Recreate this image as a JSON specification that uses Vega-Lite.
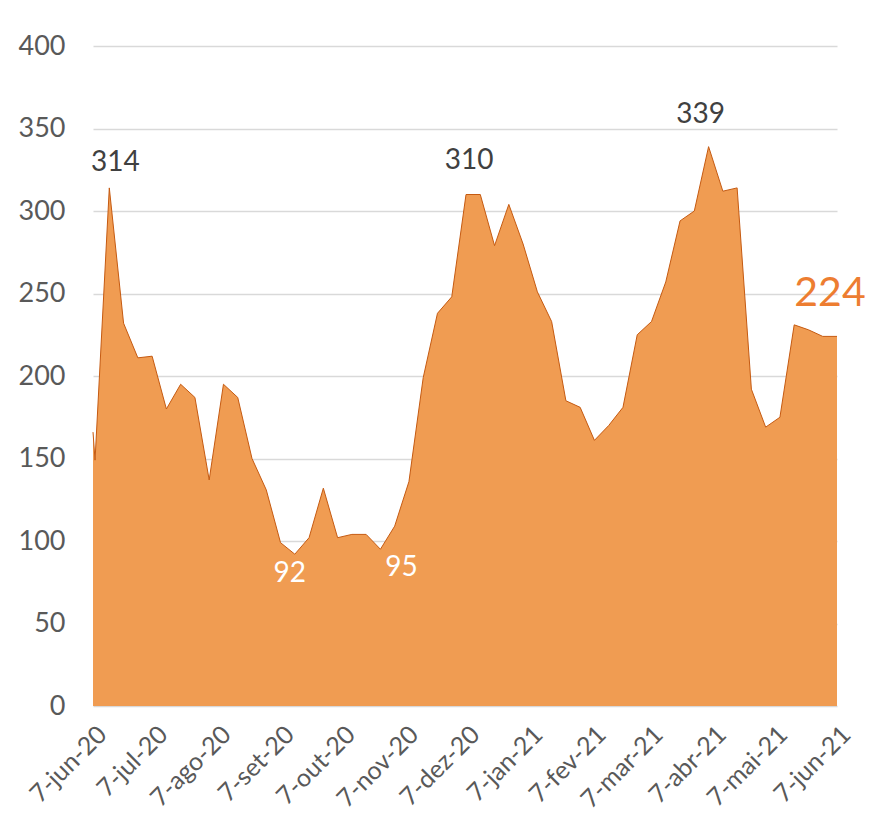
{
  "$schema": "https://vega.github.io/schema/vega-lite/v6.json",
  "autosize": {"type": "none"},
  "padding": {"left": 93, "top": 46, "right": 35, "bottom": 111},
  "width": 744,
  "height": 660,
  "background": "white",
  "config": {"view": {"stroke": null}, "font": "Lato"},
  "data": {
    "format": {"parse": {"date": "date:'%Y/%m/%d'"}},
    "values": [
      {"date": "2020/06/07", "value": 166, "lbl": null},
      {"date": "2020/06/08", "value": 149, "lbl": null},
      {"date": "2020/06/15", "value": 314, "lbl": "314"},
      {"date": "2020/06/22", "value": 232, "lbl": null},
      {"date": "2020/06/29", "value": 211, "lbl": null},
      {"date": "2020/07/06", "value": 212, "lbl": null},
      {"date": "2020/07/13", "value": 180, "lbl": null},
      {"date": "2020/07/20", "value": 195, "lbl": null},
      {"date": "2020/07/27", "value": 187, "lbl": null},
      {"date": "2020/08/03", "value": 137, "lbl": null},
      {"date": "2020/08/10", "value": 195, "lbl": null},
      {"date": "2020/08/17", "value": 187, "lbl": null},
      {"date": "2020/08/24", "value": 150, "lbl": null},
      {"date": "2020/08/31", "value": 131, "lbl": null},
      {"date": "2020/09/07", "value": 99, "lbl": null},
      {"date": "2020/09/14", "value": 92, "lbl": "92"},
      {"date": "2020/09/21", "value": 102, "lbl": null},
      {"date": "2020/09/28", "value": 132, "lbl": null},
      {"date": "2020/10/05", "value": 102, "lbl": null},
      {"date": "2020/10/12", "value": 104, "lbl": null},
      {"date": "2020/10/19", "value": 104, "lbl": null},
      {"date": "2020/10/26", "value": 95, "lbl": "95"},
      {"date": "2020/11/02", "value": 109, "lbl": null},
      {"date": "2020/11/09", "value": 136, "lbl": null},
      {"date": "2020/11/16", "value": 199, "lbl": null},
      {"date": "2020/11/23", "value": 238, "lbl": null},
      {"date": "2020/11/30", "value": 248, "lbl": null},
      {"date": "2020/12/07", "value": 310, "lbl": "310"},
      {"date": "2020/12/14", "value": 310, "lbl": null},
      {"date": "2020/12/21", "value": 279, "lbl": null},
      {"date": "2020/12/28", "value": 304, "lbl": null},
      {"date": "2021/01/04", "value": 280, "lbl": null},
      {"date": "2021/01/11", "value": 251, "lbl": null},
      {"date": "2021/01/18", "value": 233, "lbl": null},
      {"date": "2021/01/25", "value": 185, "lbl": null},
      {"date": "2021/02/01", "value": 181, "lbl": null},
      {"date": "2021/02/08", "value": 161, "lbl": null},
      {"date": "2021/02/15", "value": 170, "lbl": null},
      {"date": "2021/02/22", "value": 181, "lbl": null},
      {"date": "2021/03/01", "value": 225, "lbl": null},
      {"date": "2021/03/08", "value": 233, "lbl": null},
      {"date": "2021/03/15", "value": 257, "lbl": null},
      {"date": "2021/03/22", "value": 294, "lbl": null},
      {"date": "2021/03/29", "value": 300, "lbl": null},
      {"date": "2021/04/05", "value": 339, "lbl": "339"},
      {"date": "2021/04/12", "value": 312, "lbl": null},
      {"date": "2021/04/19", "value": 314, "lbl": null},
      {"date": "2021/04/26", "value": 192, "lbl": null},
      {"date": "2021/05/03", "value": 169, "lbl": null},
      {"date": "2021/05/10", "value": 175, "lbl": null},
      {"date": "2021/05/17", "value": 231, "lbl": null},
      {"date": "2021/05/24", "value": 228, "lbl": null},
      {"date": "2021/05/31", "value": 224, "lbl": null},
      {"date": "2021/06/07", "value": 224, "lbl": "224"}
    ]
  },
  "encoding": {
    "x": {
      "field": "date",
      "type": "temporal",
      "scale": {"domain": [{"year": 2020, "month": 6, "date": 7}, {"year": 2021, "month": 6, "date": 7}], "nice": false},
      "axis": {
        "title": null,
        "grid": false,
        "domain": false,
        "ticks": false,
        "values": [
          {"year": 2020, "month": 6, "date": 7},
          {"year": 2020, "month": 7, "date": 7},
          {"year": 2020, "month": 8, "date": 7},
          {"year": 2020, "month": 9, "date": 7},
          {"year": 2020, "month": 10, "date": 7},
          {"year": 2020, "month": 11, "date": 7},
          {"year": 2020, "month": 12, "date": 7},
          {"year": 2021, "month": 1, "date": 7},
          {"year": 2021, "month": 2, "date": 7},
          {"year": 2021, "month": 3, "date": 7},
          {"year": 2021, "month": 4, "date": 7},
          {"year": 2021, "month": 5, "date": 7},
          {"year": 2021, "month": 6, "date": 7}
        ],
        "labelExpr": "'7-' + ['jan','fev','mar','abr','mai','jun','jul','ago','set','out','nov','dez'][month(datum.value)] + '-' + timeFormat(datum.value, '%y')",
        "labelAngle": -45,
        "labelAlign": "right",
        "labelBaseline": "middle",
        "labelFontSize": 25,
        "labelColor": "#595959",
        "labelPadding": 24,
        "labelOffset": 9,
        "labelOverlap": false,
        "labelBound": false,
        "labelFlush": false
      }
    },
    "y": {
      "field": "value",
      "type": "quantitative",
      "scale": {"domain": [0, 400], "nice": false},
      "axis": {
        "title": null,
        "values": [0, 50, 100, 150, 200, 250, 300, 350, 400],
        "domain": false,
        "ticks": false,
        "grid": true,
        "gridColor": "#d9d9d9",
        "gridWidth": 1.5,
        "labelFontSize": 27,
        "labelColor": "#595959",
        "labelPadding": 28
      }
    }
  },
  "layer": [
    {
      "mark": {"type": "area", "color": "#F09C52", "opacity": 1, "line": {"color": "#C55A11", "strokeWidth": 1}}
    },
    {
      "transform": [{"filter": "datum.lbl === '314'"}],
      "mark": {"type": "text", "fontSize": 28, "color": "#404040", "baseline": "middle", "align": "center", "dx": 6, "dy": -25},
      "encoding": {"text": {"field": "lbl"}}
    },
    {
      "transform": [{"filter": "datum.lbl === '310'"}],
      "mark": {"type": "text", "fontSize": 28, "color": "#404040", "baseline": "middle", "align": "center", "dx": 3, "dy": -34},
      "encoding": {"text": {"field": "lbl"}}
    },
    {
      "transform": [{"filter": "datum.lbl === '339'"}],
      "mark": {"type": "text", "fontSize": 28, "color": "#404040", "baseline": "middle", "align": "center", "dx": -8, "dy": -32},
      "encoding": {"text": {"field": "lbl"}}
    },
    {
      "transform": [{"filter": "datum.lbl === '92'"}],
      "mark": {"type": "text", "fontSize": 28, "color": "#FFFFFF", "baseline": "middle", "align": "center", "dx": -5, "dy": 20},
      "encoding": {"text": {"field": "lbl"}}
    },
    {
      "transform": [{"filter": "datum.lbl === '95'"}],
      "mark": {"type": "text", "fontSize": 28, "color": "#FFFFFF", "baseline": "middle", "align": "center", "dx": 21, "dy": 19},
      "encoding": {"text": {"field": "lbl"}}
    },
    {
      "transform": [{"filter": "datum.lbl === '224'"}],
      "mark": {"type": "text", "fontSize": 41, "color": "#ED7D31", "baseline": "middle", "align": "center", "dx": -7, "dy": -42},
      "encoding": {"text": {"field": "lbl"}}
    }
  ]
}
